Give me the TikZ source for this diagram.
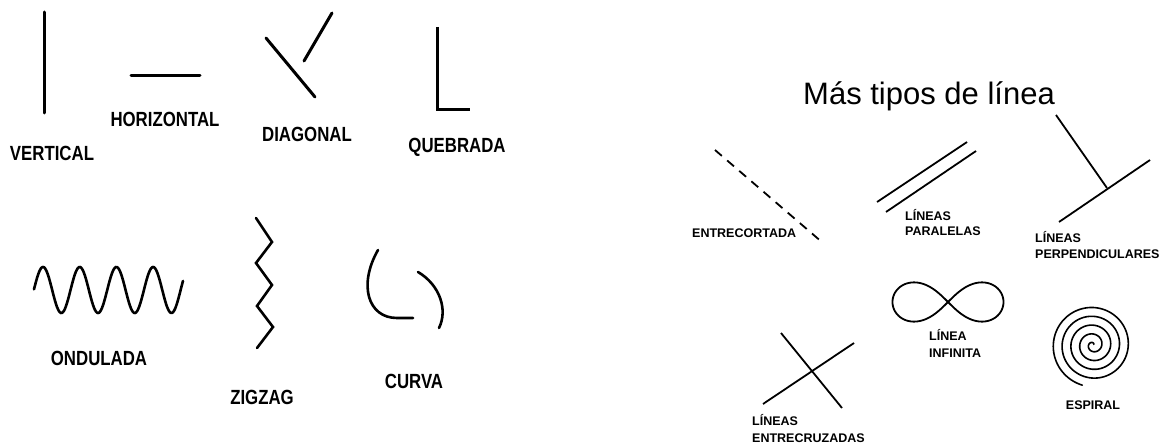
\documentclass[tikz,border=0pt]{standalone}
\usepackage{fontspec}
\setmainfont{Liberation Sans}
\begin{document}
\begin{tikzpicture}[x=1pt,y=-1pt,
  thickline/.style={line width=3pt, line cap=round, line join=miter},
  wavyline/.style={line width=2.6pt, line cap=round, line join=miter},
  thinline/.style={line width=1.8pt},
  biglbl/.style={font=\bfseries\fontsize{20.5}{20.5}\selectfont, xscale=0.82, inner sep=0pt, anchor=base, text=black},
  smalllbl/.style={font=\bfseries\fontsize{12.5}{12.5}\selectfont, inner sep=0pt, anchor=base west},
]
\fill[white] (0,0) rectangle (1163,444);
\useasboundingbox (0,0) rectangle (1163,444);

% ---- left: basic lines ----
\draw[thickline] (44,12) -- (44,113);
\node[biglbl] (vertical) at (52,160) {VERTICAL};

\draw[thickline] (131,76) -- (200,76);
\node[biglbl] (horizontal) at (165,127) {HORIZONTAL};

\draw[thickline] (266,38) -- (315,97);
\draw[thickline] (304,61) -- (332,13);
\node[biglbl] (diagonal) at (307,142) {DIAGONAL};

\draw[thickline, line cap=butt] (437,27) -- (437,110) -- (470,110);
\node[biglbl] (quebrada) at (457,153) {QUEBRADA};

\draw[wavyline] plot[domain=34:183, samples=150, smooth] (\x, {290-23*cos((\x-43)*9.809)});
\node[biglbl] (ondulada) at (99,365) {ONDULADA};

\draw[wavyline] (256,218) -- (272,242) -- (256,263) -- (272,285) -- (257,306) -- (273,327) -- (257,348);
\node[biglbl] (zigzag) at (262,404) {ZIGZAG};

\draw[wavyline] (378,250) .. controls (358,285) and (368,318) .. (397,318) -- (413,318);
\draw[wavyline] (418,272) .. controls (440,285) and (448,310) .. (439,328);
\node[biglbl] (curva) at (414,388) {CURVA};

% ---- right: more line types ----
\node[font=\fontsize{31}{31}\selectfont, inner sep=0pt, anchor=base] (title) at (929,105) {Más tipos de línea};

\draw[thinline, dash pattern=on 9pt off 7pt] (715,150) -- (823,243);
\node[smalllbl] (entre) at (692,237) {ENTRECORTADA};

\draw[thinline] (877,202) -- (967,142);
\draw[thinline] (886,212) -- (976,151);
\node[smalllbl] (par1) at (905,220) {LÍNEAS};
\node[smalllbl] (par2) at (905,235) {PARALELAS};

\draw[thinline] (1056,115) -- (1107,188);
\draw[thinline] (1059,222) -- (1150,160);
\node[smalllbl] (perp1) at (1035,242) {LÍNEAS};
\node[smalllbl] (perp2) at (1035,258) {PERPENDICULARES};

\draw[thinline] plot[domain=0:358, samples=180, smooth cycle]
  ({948+55.5*cos(\x)/(1+sin(\x)^2)}, {302+55.5*sin(\x)*cos(\x)/(1+sin(\x)^2)});
\node[smalllbl] (inf1) at (929,340) {LÍNEA};
\node[smalllbl] (inf2) at (929,357) {INFINITA};

\draw[thinline] (781,333) -- (842,408);
\draw[thinline] (763,404) -- (854,343);
\node[smalllbl] (cruz1) at (752,425) {LÍNEAS};
\node[smalllbl] (cruz2) at (752,442) {ENTRECRUZADAS};

\draw[line width=1.6pt, line cap=round] plot[domain=40:1695, samples=500, smooth]
  ({1093+0.0245*\x*cos(\x)}, {345-0.0245*\x*sin(\x)});
\node[smalllbl, anchor=base] (espiral) at (1093,409) {ESPIRAL};
\end{tikzpicture}
\end{document}
